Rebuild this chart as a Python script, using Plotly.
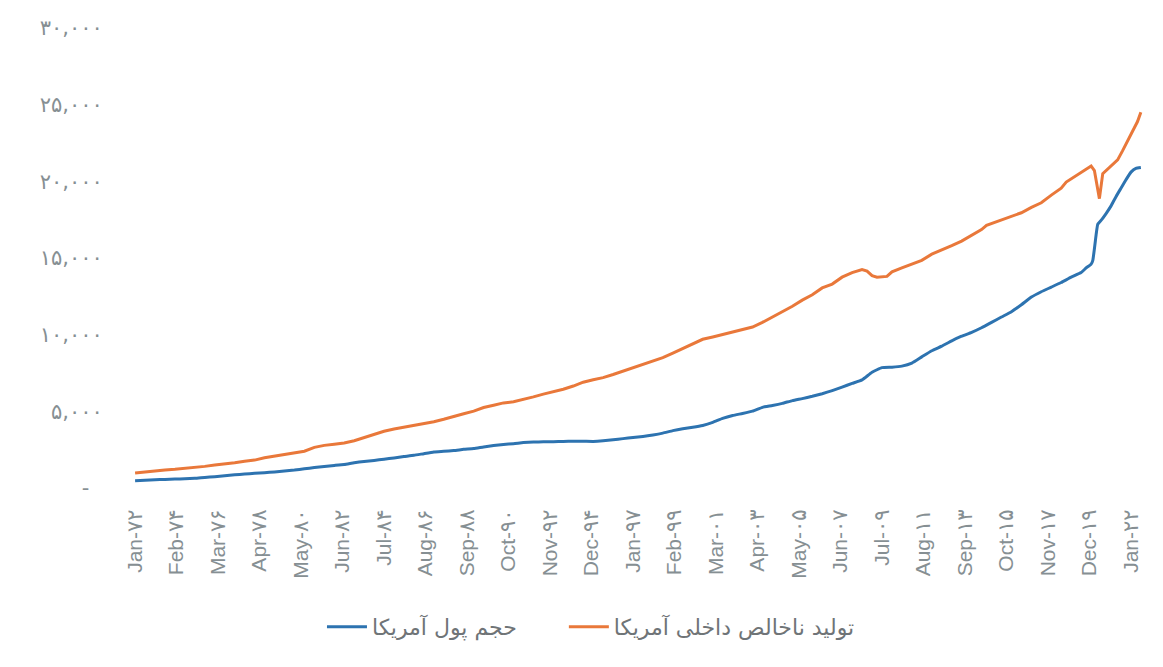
import plotly.graph_objects as go

# ---- data ----
money_dates = [
    "1972-01", "1972-07", "1973-01", "1973-07", "1974-01", "1974-07", "1975-01", "1975-07",
    "1976-01", "1976-07", "1977-01", "1977-07", "1978-01", "1978-07", "1979-01", "1979-07",
    "1980-01", "1980-07", "1981-01", "1981-07", "1982-01", "1982-07", "1983-01", "1983-07",
    "1984-01", "1984-07", "1985-01", "1985-07", "1986-01", "1986-07", "1987-01", "1987-07",
    "1988-01", "1988-07", "1989-01", "1989-07", "1990-01", "1990-07", "1991-01", "1991-07",
    "1992-01", "1992-07", "1993-01", "1993-07", "1994-01", "1994-07", "1995-01", "1995-07",
    "1996-01", "1996-07", "1997-01", "1997-07", "1998-01", "1998-07", "1999-01", "1999-07",
    "2000-01", "2000-07", "2001-01", "2001-07", "2002-01", "2002-07", "2003-01", "2003-07",
    "2004-01", "2004-07", "2005-01", "2005-07", "2006-01", "2006-07", "2007-01", "2007-07",
    "2008-01", "2008-07", "2009-01", "2009-07", "2010-01", "2010-07", "2011-01", "2011-07",
    "2012-01", "2012-07", "2013-01", "2013-07", "2014-01", "2014-07", "2015-01", "2015-07",
    "2016-01", "2016-07", "2017-01", "2017-07", "2018-01", "2018-07", "2019-01", "2019-07",
    "2019-10", "2020-01", "2020-02", "2020-04", "2020-05", "2020-07", "2020-10", "2021-01",
    "2021-04", "2021-07", "2021-10", "2022-01", "2022-04", "2022-07",
]
money_values = [
    480, 510, 540, 560, 580, 600, 630, 690,
    740, 800, 860, 910, 960, 1000, 1050, 1110,
    1170, 1250, 1330, 1400, 1470, 1540, 1650, 1730,
    1800, 1880, 1960, 2050, 2130, 2240, 2350, 2390,
    2440, 2520, 2580, 2680, 2770, 2840, 2890, 2960,
    3000, 3010, 3020, 3040, 3050, 3050, 3040, 3080,
    3150, 3220, 3290, 3360, 3460, 3580, 3740, 3860,
    3960, 4080, 4280, 4540, 4730, 4860, 5010, 5260,
    5380, 5520, 5700, 5830, 5980, 6150, 6350, 6580,
    6820, 7050, 7550, 7850, 7880, 7950, 8150, 8550,
    8950, 9250, 9600, 9900, 10150, 10450, 10800, 11150,
    11500, 11950, 12450, 12800, 13100, 13400, 13750, 14050,
    14350, 14600, 14850, 16500, 17200, 17450, 17900, 18400,
    19000, 19550, 20100, 20600, 20850, 20900,
]

gdp_dates = [
    "1972-01", "1972-07", "1973-01", "1973-07", "1974-01", "1974-07", "1975-01", "1975-07",
    "1976-01", "1976-07", "1977-01", "1977-07", "1978-01", "1978-07", "1979-01", "1979-07",
    "1980-01", "1980-07", "1981-01", "1981-07", "1982-01", "1982-07", "1983-01", "1983-07",
    "1984-01", "1984-07", "1985-01", "1985-07", "1986-01", "1986-07", "1987-01", "1987-07",
    "1988-01", "1988-07", "1989-01", "1989-07", "1990-01", "1990-07", "1991-01", "1991-07",
    "1992-01", "1992-07", "1993-01", "1993-07", "1994-01", "1994-07", "1995-01", "1995-07",
    "1996-01", "1996-07", "1997-01", "1997-07", "1998-01", "1998-07", "1999-01", "1999-07",
    "2000-01", "2000-07", "2001-01", "2001-07", "2002-01", "2002-07", "2003-01", "2003-07",
    "2004-01", "2004-07", "2005-01", "2005-07", "2006-01", "2006-07", "2007-01", "2007-07",
    "2008-01", "2008-07", "2008-10", "2009-01", "2009-04", "2009-10", "2010-01", "2010-07",
    "2011-01", "2011-07", "2012-01", "2012-07", "2013-01", "2013-07", "2014-01", "2014-07",
    "2014-10", "2015-01", "2015-07", "2016-01", "2016-07", "2017-01", "2017-07", "2018-01",
    "2018-07", "2018-10", "2019-01", "2019-07", "2019-10", "2020-01", "2020-03", "2020-06",
    "2020-08", "2020-11", "2021-02", "2021-05", "2021-08", "2021-11", "2022-02", "2022-05",
    "2022-07",
]
gdp_values = [
    980, 1060, 1130, 1180, 1220, 1280, 1320, 1410,
    1500, 1560, 1640, 1740, 1820, 1970, 2070, 2180,
    2300, 2400, 2650, 2780, 2860, 2940, 3080, 3280,
    3520, 3700, 3850, 3960, 4100, 4200, 4320, 4480,
    4640, 4840, 5010, 5250, 5400, 5550, 5620, 5760,
    5940, 6120, 6280, 6440, 6650, 6900, 7060, 7200,
    7400, 7620, 7850, 8080, 8280, 8500, 8800, 9100,
    9450, 9700, 9850, 10000, 10180, 10350, 10500, 10800,
    11150, 11450, 11850, 12250, 12600, 13050, 13300, 13750,
    14050, 14250, 14150, 13850, 13750, 13800, 14100, 14350,
    14600, 14850, 15250, 15500, 15800, 16100, 16500, 16850,
    17130, 17250, 17500, 17700, 17950, 18300, 18600, 19100,
    19550, 19950, 20150, 20550, 20800, 21000, 20700, 18870,
    20500, 20800, 21100, 21400, 22000, 22650, 23250, 23900,
    24500,
]

series_names = ["حجم پول آمریکا", "تولید ناخالص داخلی آمریکا"]

x_tick_dates = [
    "1972-01", "1974-02", "1976-03", "1978-04", "1980-05", "1982-06", "1984-07",
    "1986-08", "1988-09", "1990-10", "1992-11", "1994-12", "1997-01", "1999-02",
    "2001-03", "2003-04", "2005-05", "2007-06", "2009-07", "2011-08", "2013-09",
    "2015-10", "2017-11", "2019-12", "2022-01",
]
x_tick_labels = [
    "Jan-۷۲", "Feb-۷۴", "Mar-۷۶", "Apr-۷۸", "May-۸۰", "Jun-۸۲", "Jul-۸۴",
    "Aug-۸۶", "Sep-۸۸", "Oct-۹۰", "Nov-۹۲", "Dec-۹۴", "Jan-۹۷", "Feb-۹۹",
    "Mar-۰۱", "Apr-۰۳", "May-۰۵", "Jun-۰۷", "Jul-۰۹", "Aug-۱۱", "Sep-۱۳",
    "Oct-۱۵", "Nov-۱۷", "Dec-۱۹", "Jan-۲۲",
]
y_tick_values = [0, 5000, 10000, 15000, 20000, 25000, 30000]
y_tick_labels = ["-\u00a0\u00a0", "۵,۰۰۰", "۱۰,۰۰۰", "۱۵,۰۰۰", "۲۰,۰۰۰", "۲۵,۰۰۰", "۳۰,۰۰۰"]

# ---- figure ----
BLUE = "#2D73B0"
ORANGE = "#E9783A"
GREY = "#868f93"
GAP = "\u00a0" * 6  # spacing between the two legend entries

fig = go.Figure()
fig.add_trace(go.Scatter(
    x=money_dates, y=money_values, mode="lines", name=series_names[0] + GAP,
    line=dict(color=BLUE, width=3, shape="spline", smoothing=0.4),
))
fig.add_trace(go.Scatter(
    x=gdp_dates, y=gdp_values, mode="lines", name=series_names[1],
    line=dict(color=ORANGE, width=3),
))

fig.update_layout(
    width=1163, height=667,
    margin=dict(l=134, r=18, t=28, b=179),
    paper_bgcolor="white", plot_bgcolor="white",
    font=dict(family="DejaVu Sans", color=GREY),
    showlegend=True,
    legend=dict(
        orientation="h", x=0.452, xanchor="center", y=-0.302, yanchor="middle",
        font=dict(size=22, color="#6f7477", family="DejaVu Sans"),
        bgcolor="rgba(0,0,0,0)", itemwidth=40,
    ),
)
fig.update_xaxes(
    type="date", range=["1971-12-12", "2022-09-15"],
    tickmode="array", tickvals=x_tick_dates, ticktext=x_tick_labels,
    tickangle=-90, tickfont=dict(size=21, color=GREY, family="Liberation Sans, DejaVu Sans"),
    showgrid=False, zeroline=False, showline=False,
    ticks="outside", ticklen=12, tickcolor="rgba(0,0,0,0)",
)
fig.update_yaxes(
    range=[0, 30000],
    tickmode="array", tickvals=y_tick_values, ticktext=y_tick_labels,
    tickfont=dict(size=21, color=GREY, family="DejaVu Sans"),
    showgrid=False, zeroline=False, showline=False,
    ticks="outside", ticklen=26, tickcolor="rgba(0,0,0,0)",
)

fig.write_html(
    "out.html",
    config={"displayModeBar": False},
    post_script="document.body.style.margin='0';document.body.style.overflow='hidden';",
)
